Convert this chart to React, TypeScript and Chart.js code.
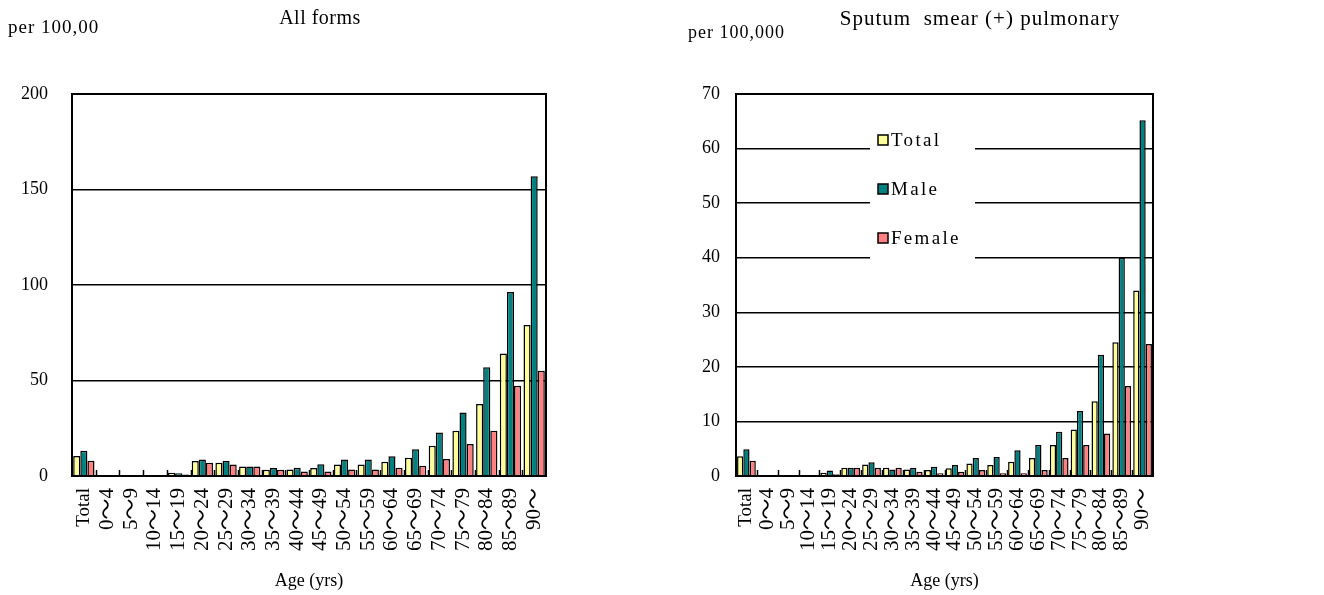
import React, { useEffect, useRef } from "react";
import { Chart, registerables } from "chart.js";
Chart.register(...registerables);

const categories = ["Total", "0～4", "5～9", "10～14", "15～19", "20～24", "25～29", "30～34", "35～39", "40～44", "45～49", "50～54", "55～59", "60～64", "65～69", "70～74", "75～79", "80～84", "85～89", "90～"];

const seriesNames = ["Total", "Male", "Female"];
const seriesColors = ["#FFFF99", "#008080", "#FF8080"];

// All forms (per 100,000)
const allTotal = [10.5, 0.4, 0.2, 0.4, 1.7, 7.8, 7.0, 5.0, 3.3, 3.4, 4.2, 6.0, 6.0, 7.5, 9.5, 15.9, 23.7, 37.7, 64.2, 79.0];
const allMale = [13.2, 0.5, 0.3, 0.4, 1.5, 8.7, 7.8, 5.0, 4.2, 4.3, 6.1, 8.7, 8.7, 10.4, 14.0, 22.8, 33.3, 56.9, 96.3, 156.9];
const allFemale = [8.0, 0.3, 0.1, 0.3, 0.8, 7.0, 6.0, 5.0, 3.3, 2.4, 2.3, 3.4, 3.4, 4.3, 5.4, 8.9, 16.7, 23.7, 47.3, 55.1];
const allTicks = [0, 50, 100, 150, 200];

// Sputum smear (+) pulmonary (per 100,000)
const smTotal = [3.6, 0, 0, 0, 0.6, 1.5, 2.1, 1.5, 1.2, 1.1, 1.4, 2.3, 2.0, 2.6, 3.3, 5.7, 8.5, 13.7, 24.5, 34.0];
const smMale = [4.9, 0, 0, 0, 1.0, 1.5, 2.5, 1.2, 1.5, 1.7, 2.0, 3.3, 3.5, 4.7, 5.7, 8.1, 11.9, 22.2, 40.0, 65.2];
const smFemale = [2.8, 0, 0, 0, 0.3, 1.5, 1.5, 1.5, 0.8, 0.5, 0.8, 1.1, 0.5, 0.5, 1.1, 3.3, 5.7, 7.8, 16.5, 24.2];
const smTicks = [0, 10, 20, 30, 40, 50, 60, 70];

const FONT = "'Liberation Serif', 'Times New Roman', 'Noto Sans CJK JP', serif";

type Opts = {
  data: number[][];
  ticks: number[];
  title: string;
  titleX: number;
  titleSize: number;
  titleLs: number;
  unit: string;
  unitX: number;
  unitY: number;
  unitSize: number;
  yWidth: number;
  padRight: number;
  tickPad: number;
  legend: boolean;
};

function makeConfig(o: Opts): any {
  const frame = {
    id: "frame",
    beforeDatasetsDraw(chart: any) {
      const { ctx, chartArea } = chart;
      const xs = chart.scales.x;
      ctx.save();
      ctx.strokeStyle = "#000";
      ctx.lineWidth = 1.5;
      for (let i = 0; i < categories.length - 1; i++) {
        const x = Math.round((xs.getPixelForValue(i) + xs.getPixelForValue(i + 1)) / 2) + 0.5;
        ctx.beginPath();
        ctx.moveTo(x, chartArea.bottom);
        ctx.lineTo(x, chartArea.bottom - 6);
        ctx.stroke();
      }
      ctx.restore();
    },
    afterDraw(chart: any) {
      const { ctx, chartArea } = chart;
      ctx.save();
      ctx.strokeStyle = "#000";
      ctx.lineWidth = 2;
      ctx.strokeRect(chartArea.left, chartArea.top, chartArea.right - chartArea.left, chartArea.bottom - chartArea.top);
      ctx.fillStyle = "#000";
      ctx.textBaseline = "middle";
      ctx.textAlign = "center";
      ctx.font = `${o.titleSize}px ${FONT}`;
      (ctx as any).letterSpacing = `${o.titleLs}px`;
      ctx.fillText(o.title, o.titleX, 19);
      ctx.textAlign = "left";
      ctx.font = `${o.unitSize}px ${FONT}`;
      (ctx as any).letterSpacing = "1px";
      ctx.fillText(o.unit, o.unitX, o.unitY);
      if (o.legend) {
        const lx = chartArea.left + 134;
        const ly = chartArea.top + 24;
        (ctx as any).letterSpacing = "2.3px";
        ctx.fillStyle = "#fff";
        ctx.fillRect(lx, ly, 105, 146);
        ctx.font = `19px ${FONT}`;
        for (let i = 0; i < seriesNames.length; i++) {
          const cy = ly + 22 + i * 49;
          ctx.fillStyle = seriesColors[i];
          ctx.fillRect(lx + 8, cy - 5, 10, 10);
          ctx.strokeStyle = "#000";
          ctx.lineWidth = 1.5;
          ctx.strokeRect(lx + 8, cy - 5, 10, 10);
          ctx.fillStyle = "#000";
          ctx.fillText(seriesNames[i], lx + 21, cy + 1);
        }
      }
      (ctx as any).letterSpacing = "0px";
      ctx.restore();
    },
  };

  return {
    type: "bar",
    data: {
      labels: categories,
      datasets: o.data.map((d, i) => ({
        label: seriesNames[i],
        data: d,
        backgroundColor: seriesColors[i],
        borderColor: "#000",
        borderWidth: 1.5,
        borderSkipped: "bottom",
        categoryPercentage: 0.9,
        barPercentage: 1.0,
      })),
    },
    options: {
      responsive: false,
      animation: false,
      devicePixelRatio: 1,
      layout: { padding: { left: 0, top: 94, right: o.padRight, bottom: 0 } },
      plugins: { legend: { display: false }, tooltip: { enabled: false }, title: { display: false } },
      scales: {
        x: {
          grid: { display: false },
          border: { display: true, color: "#000", width: 2 },
          ticks: {
            autoSkip: false,
            maxRotation: 90,
            minRotation: 90,
            padding: 4,
            color: "#000",
            font: (c: any) => ({ family: FONT, size: c.index === 0 ? 19 : 21 }),
          },
          title: { display: true, text: "Age (yrs)", color: "#000", font: { family: FONT, size: 18 }, padding: { top: 0, bottom: 3 } },
          afterFit: (s: any) => { s.height = 119; },
        },
        y: {
          min: o.ticks[0],
          max: o.ticks[o.ticks.length - 1],
          afterBuildTicks: (s: any) => { s.ticks = o.ticks.map((v) => ({ value: v })); },
          ticks: { padding: o.tickPad, color: "#000", font: { family: FONT, size: 18 } },
          grid: { color: "#000", lineWidth: 1.4, drawTicks: false },
          border: { display: true, color: "#000", width: 2 },
          afterFit: (s: any) => { s.width = o.yWidth; },
        },
      },
    },
    plugins: [frame],
  };
}

function BarChart({ o, w, h }: { o: Opts; w: number; h: number }) {
  const ref = useRef<HTMLCanvasElement>(null);
  useEffect(() => {
    const c = new Chart(ref.current as HTMLCanvasElement, makeConfig(o));
    return () => c.destroy();
  }, []);
  return <canvas ref={ref} width={w} height={h} style={{ width: w, height: h, display: "block" }} />;
}

export default function App() {
  const left: Opts = {
    data: [allTotal, allMale, allFemale],
    ticks: allTicks,
    title: "All forms",
    titleX: 320,
    titleSize: 20,
    titleLs: 0.5,
    unit: "per 100,00",
    unitX: 8,
    unitY: 28,
    unitSize: 19,
    yWidth: 72,
    padRight: 660 - 546,
    tickPad: 24,
    legend: false,
  };
  const right: Opts = {
    data: [smTotal, smMale, smFemale],
    ticks: smTicks,
    title: "Sputum  smear (+) pulmonary",
    titleX: 320,
    titleSize: 21,
    titleLs: 1,
    unit: "per 100,000",
    unitX: 28,
    unitY: 33,
    unitSize: 18,
    yWidth: 76,
    padRight: 664 - 493,
    tickPad: 16,
    legend: true,
  };
  return (
    <div style={{ position: "fixed", left: 0, top: 0, width: 1324, height: 595, background: "#fff" }}>
      <div style={{ position: "absolute", left: 0, top: 0 }}>
        <BarChart o={left} w={660} h={595} />
      </div>
      <div style={{ position: "absolute", left: 660, top: 0 }}>
        <BarChart o={right} w={664} h={595} />
      </div>
    </div>
  );
}
